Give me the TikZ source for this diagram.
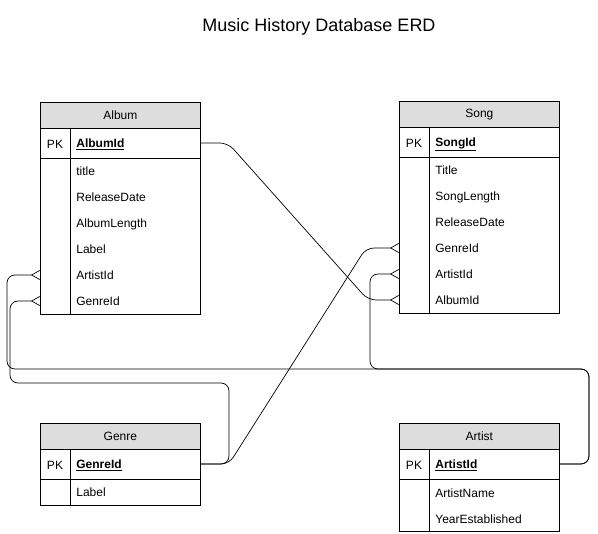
\documentclass[tikz,border=0pt]{standalone}
\usepackage{fontspec}
\setmainfont{Liberation Sans}
\usepackage{tikz}
\usetikzlibrary{calc,arrows.meta,positioning}
\definecolor{hdrgray}{RGB}{221,221,221}

\begin{document}
\begin{tikzpicture}[x=1pt,y=-1pt,line width=0.8pt,
      font=\fontsize{12}{14}\selectfont,
      tbl/.style={draw,anchor=north west,minimum width=160pt,inner sep=0pt},
      hdr/.style={draw,fill=hdrgray,anchor=north west,minimum width=160pt,minimum height=26pt,inner sep=0pt},
      fld/.style={anchor=west,inner sep=0pt,text height=9pt,text depth=2.5pt,yshift=-1.5pt},
      pk/.style={fld,font=\fontsize{12}{14}\selectfont\bfseries},
      conn/.style={rounded corners=8pt,line width=0.7pt},
      many/.style={conn,-{Straight Barb[reversed,length=8pt,width=9pt,line width=0.7pt]}}]
    \useasboundingbox (0,0) rectangle (598,534);
    \node[font=\fontsize{18}{22}\selectfont] (title) at (319,27) {Music History Database ERD};
    % Album
    \node[tbl,minimum height=212pt] (album) at (40,102) {};
    \node[hdr] (albumH) at (album.north west) {Album};
    \draw (40,158) -- (200,158);
    \draw (70,128) -- (70,314);
    \node[yshift=-1.5pt] (albPK) at (55,143) {PK};
    \node[pk] (albId) at (76,143) {\underline{AlbumId}};
    \node[fld] (albTitle) at (76,171) {title};
    \node[fld] (albDate) at (76,197) {ReleaseDate};
    \node[fld] (albLen) at (76,223) {AlbumLength};
    \node[fld] (albLabel) at (76,249) {Label};
    \node[fld] (albArtist) at (76,275) {ArtistId};
    \node[fld] (albGenre) at (76,301) {GenreId};
    % Song
    \node[tbl,minimum height=212pt] (song) at (399,101) {};
    \node[hdr] (songH) at (song.north west) {Song};
    \draw (399,157) -- (559,157);
    \draw (429,127) -- (429,313);
    \node[yshift=-1.5pt] (sngPK) at (414,142) {PK};
    \node[pk] (sngId) at (435,142) {\underline{SongId}};
    \node[fld] (sngTitle) at (435,170) {Title};
    \node[fld] (sngLen) at (435,196) {SongLength};
    \node[fld] (sngDate) at (435,222) {ReleaseDate};
    \node[fld] (sngGenre) at (435,248) {GenreId};
    \node[fld] (sngArtist) at (435,274) {ArtistId};
    \node[fld] (sngAlbum) at (435,300) {AlbumId};
    % Genre
    \node[tbl,minimum height=82pt] (genre) at (40,423) {};
    \node[hdr] (genreH) at (genre.north west) {Genre};
    \draw (40,479) -- (200,479);
    \draw (70,449) -- (70,505);
    \node[yshift=-1.5pt] (genPK) at (55,464) {PK};
    \node[pk] (genId) at (76,464) {\underline{GenreId}};
    \node[fld] (genLabel) at (76,492) {Label};
    % Artist
    \node[tbl,minimum height=108pt] (artist) at (399,423) {};
    \node[hdr] (artistH) at (artist.north west) {Artist};
    \draw (399,479) -- (559,479);
    \draw (429,449) -- (429,531);
    \node[yshift=-1.5pt] (artPK) at (414,464) {PK};
    \node[pk] (artId) at (435,464) {\underline{ArtistId}};
    \node[fld] (artName) at (435,493) {ArtistName};
    \node[fld] (artYear) at (435,519) {YearEstablished};
    % relations
    \draw[many] ([yshift=1.5pt]albId.west -| album.east) -- (228,143) -- (368,300) -- ([yshift=1.5pt]sngAlbum.west -| song.west);
    \draw[many] ([yshift=1.5pt]genId.west -| genre.east) -- (229,464) -- (229,383) -- (10,383) -- (10,301) -- ([yshift=1.5pt]albGenre.west -| album.west);
    \draw[many] ([yshift=1.5pt]genId.west -| genre.east) -- (229,464) -- (366,248) -- ([yshift=1.5pt]sngGenre.west -| song.west);
    \draw[many] ([yshift=1.5pt]artId.west -| artist.east) -- (589,464) -- (589,369) -- (7,369) -- (7,275) -- ([yshift=1.5pt]albArtist.west -| album.west);
    \draw[many] ([yshift=1.5pt]artId.west -| artist.east) -- (589,464) -- (589,369) -- (370,369) -- (370,274) -- ([yshift=1.5pt]sngArtist.west -| song.west);
\end{tikzpicture}
\end{document}
